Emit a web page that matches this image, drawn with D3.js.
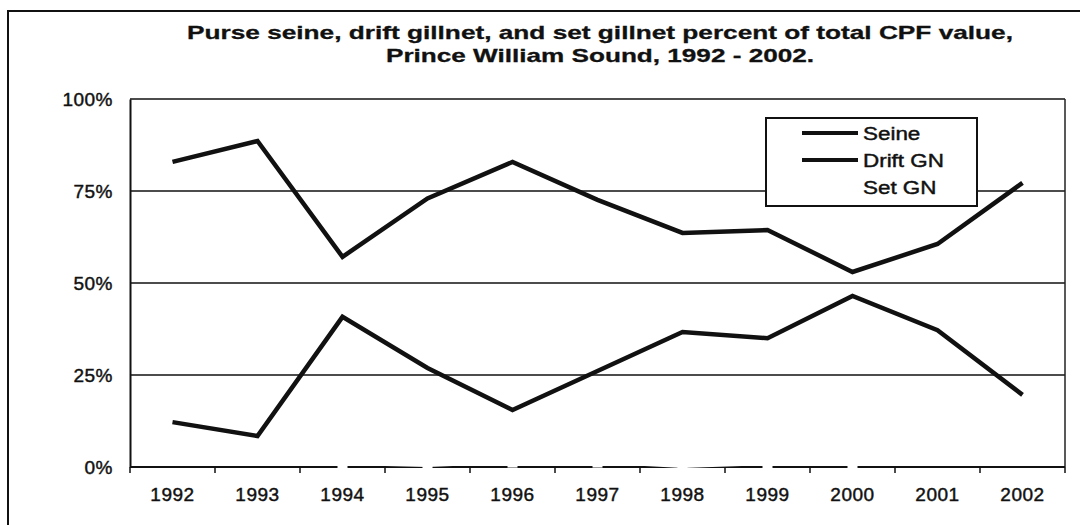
<!DOCTYPE html>
<html>
<head>
<meta charset="utf-8">
<script src="https://cdn.jsdelivr.net/npm/d3@7"></script>
<style>
  html, body { margin: 0; padding: 0; background: #fff; }
  svg { display: block; font-family: "Liberation Sans", Arial, sans-serif; }
  .lbl { stroke: #111; stroke-width: 0.45px; }
</style>
</head>
<body>
<svg id="chart" width="1080" height="525"></svg>
<script>
// Share of total CPF value by gear type, Prince William Sound
const years = ["1992","1993","1994","1995","1996","1997","1998","1999","2000","2001","2002"];
const seine = [82.9, 88.6, 57.1, 73.0, 82.9, 72.6, 63.6, 64.4, 53.0, 60.6, 77.2];
const driftGN = [12.2, 8.4, 40.8, 26.9, 15.5, 26.1, 36.7, 35.0, 46.5, 37.2, 19.6];
const setGN = [4.9, 3.0, 0.8, 0.3, 1.2, 1.2, 0.0, 0.8, 0.6, 2.2, 3.2];
const yTicks = [0, 25, 50, 75, 100];
const titleLines = [
  "Purse seine, drift gillnet, and set gillnet percent of total CPF value,",
  "Prince William Sound, 1992 - 2002."
];
const legendLabels = ["Seine", "Drift GN", "Set GN"];

const svg = d3.select("#chart");
const plot = { left: 130, right: 1065, top: 99, bottom: 467 };

const x = d3.scaleBand().domain(years).range([plot.left, plot.right]).padding(0);
const y = d3.scaleLinear().domain([0, 100]).range([plot.bottom, plot.top]);
const cx = d => x(d) + x.bandwidth() / 2;

// outer frame (top and left edges)
svg.append("line").attr("x1", 7).attr("x2", 1080).attr("y1", 11).attr("y2", 11)
  .attr("stroke", "#111").attr("stroke-width", 2);
svg.append("line").attr("x1", 8).attr("x2", 8).attr("y1", 11).attr("y2", 525)
  .attr("stroke", "#111").attr("stroke-width", 2);

// title
svg.append("g").selectAll("text").data(titleLines).join("text")
  .attr("x", 600).attr("y", (d, i) => 39 + i * 23)
  .attr("text-anchor", "middle")
  .attr("font-size", 19).attr("font-weight", "bold").attr("fill", "#111")
  .attr("stroke", "#111").attr("stroke-width", 0.3)
  .attr("textLength", (d, i) => i === 0 ? 826 : 428)
  .attr("lengthAdjust", "spacingAndGlyphs")
  .text(d => d);

// horizontal gridlines
svg.append("g").selectAll("line").data(yTicks.filter(v => v > 0)).join("line")
  .attr("x1", plot.left).attr("x2", plot.right)
  .attr("y1", d => y(d)).attr("y2", d => y(d))
  .attr("stroke", "#111").attr("stroke-width", 1.5);

// plot border right edge
svg.append("line").attr("x1", plot.right).attr("x2", plot.right)
  .attr("y1", plot.top).attr("y2", plot.bottom)
  .attr("stroke", "#222").attr("stroke-width", 1.5);

// y axis
const yAxis = d3.axisLeft(y).tickValues(yTicks).tickSize(0).tickPadding(17).tickFormat(d => d + "%");
const gy = svg.append("g").attr("transform", `translate(${plot.left},0)`).call(yAxis);
gy.attr("font-size", 19).attr("font-family", null);
gy.select(".domain").attr("stroke", "#111").attr("stroke-width", 2);
gy.selectAll(".tick text").attr("fill", "#111").attr("class", "lbl")
  .attr("letter-spacing", 0.5).attr("dy", "0.36em");

// x axis with ticks on category boundaries
const gx = svg.append("g").attr("transform", `translate(0,${plot.bottom})`);
gx.append("line").attr("x1", plot.left).attr("x2", plot.right).attr("y1", 0).attr("y2", 0)
  .attr("stroke", "#111").attr("stroke-width", 2);
const boundaries = years.map(d => x(d)).concat([plot.right]);
gx.selectAll("line.tk").data(boundaries).join("line").attr("class", "tk")
  .attr("x1", d => d).attr("x2", d => d).attr("y1", 0).attr("y2", 6)
  .attr("stroke", "#111").attr("stroke-width", 1.5);
gx.selectAll("text").data(years).join("text")
  .attr("class", "lbl")
  .attr("x", d => cx(d)).attr("y", 34)
  .attr("text-anchor", "middle").attr("font-size", 19).attr("letter-spacing", 0.5)
  .attr("fill", "#111")
  .text(d => d);

// series
const line = d3.line().x((d, i) => cx(years[i])).y(d => y(d));

// Set GN: white line with white square markers
svg.append("path").datum(setGN).attr("d", line)
  .attr("fill", "none").attr("stroke", "#fff").attr("stroke-width", 2);
svg.append("g").selectAll("rect").data(setGN).join("rect")
  .attr("x", (d, i) => cx(years[i]) - 5).attr("y", d => y(d) - 5)
  .attr("width", 10).attr("height", 10).attr("fill", "#fff");

[seine, driftGN].forEach(s => {
  svg.append("path").datum(s).attr("d", line)
    .attr("fill", "none").attr("stroke", "#111").attr("stroke-width", 4.5)
    .attr("stroke-linejoin", "miter");
});

// legend
const lg = svg.append("g");
lg.append("rect").attr("x", 766).attr("y", 118).attr("width", 211).attr("height", 88)
  .attr("fill", "#fff").attr("stroke", "#111").attr("stroke-width", 2);
const legendColors = ["#111", "#111", "#fff"];
legendLabels.forEach((t, i) => {
  const ly = 133 + i * 27;
  lg.append("line").attr("x1", 802).attr("x2", 858).attr("y1", ly).attr("y2", ly)
    .attr("stroke", legendColors[i]).attr("stroke-width", 4);
  lg.append("text").attr("class", "lbl")
    .attr("transform", `translate(863,${ly + 7}) scale(1.18,1)`)
    .attr("font-size", 19).attr("fill", "#111").text(t);
});
</script>
</body>
</html>
